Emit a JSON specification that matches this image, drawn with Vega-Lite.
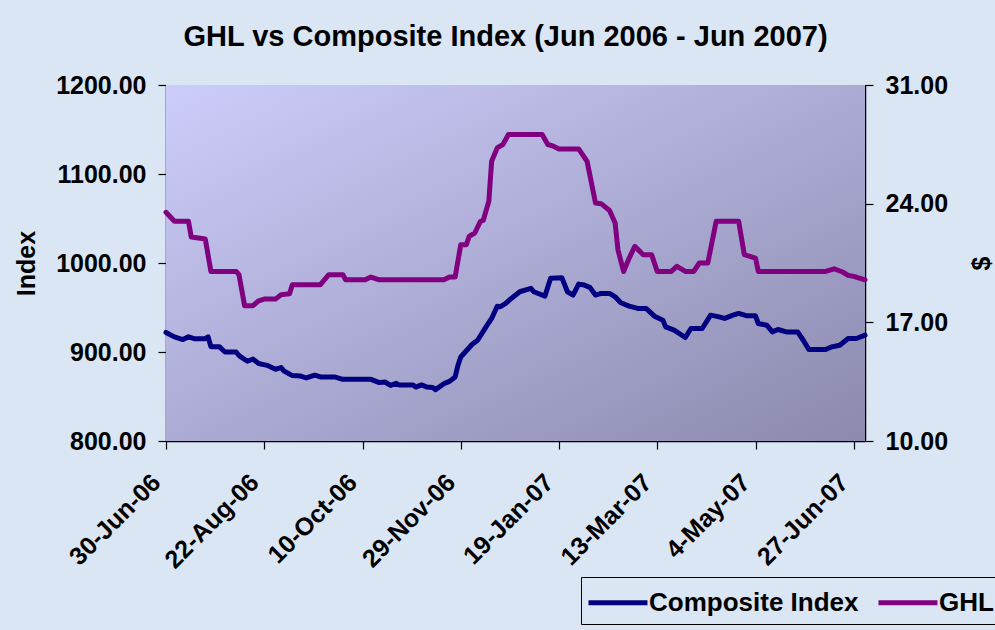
{
  "$schema": "https://vega.github.io/schema/vega-lite/v6.json",
  "width": 699,
  "height": 356,
  "autosize": {"type": "none"},
  "padding": {"left": 166, "top": 85, "right": 130, "bottom": 189},
  "background": "#dae6f4",
  "config": {
    "font": "Liberation Sans",
    "view": {"stroke": "#808080", "strokeWidth": 1},
    "axis": {
      "labelFont": "Liberation Sans",
      "labelFontWeight": "bold",
      "labelFontSize": 25,
      "labelColor": "#000000",
      "titleFont": "Liberation Sans",
      "titleFontWeight": "bold",
      "titleFontSize": 25,
      "titleColor": "#000000",
      "domainColor": "#000000",
      "domainWidth": 1.5,
      "tickColor": "#000000",
      "tickWidth": 1.2,
      "tickSize": 8,
      "grid": false
    }
  },
  "title": {
    "text": "GHL vs Composite Index (Jun 2006 - Jun 2007)",
    "font": "Liberation Sans",
    "fontSize": 29,
    "fontWeight": "bold",
    "color": "#000000",
    "anchor": "middle",
    "dx": -10,
    "offset": 21
  },
  "datasets": {
    "ci": [
      {"d": 0, "v": 922}, {"d": 3, "v": 917}, {"d": 6, "v": 914}, {"d": 8, "v": 917}, {"d": 10, "v": 915},
      {"d": 14, "v": 915}, {"d": 15, "v": 917}, {"d": 16, "v": 906}, {"d": 19, "v": 906}, {"d": 21, "v": 900},
      {"d": 25, "v": 900}, {"d": 26, "v": 896}, {"d": 29, "v": 889.6}, {"d": 31, "v": 892}, {"d": 33, "v": 887},
      {"d": 36, "v": 885}, {"d": 39, "v": 880.6}, {"d": 41, "v": 882.5}, {"d": 42, "v": 878.6}, {"d": 45, "v": 873.5},
      {"d": 48, "v": 873}, {"d": 50, "v": 870.8}, {"d": 53, "v": 874}, {"d": 55, "v": 872}, {"d": 60, "v": 872},
      {"d": 63, "v": 869.3}, {"d": 73, "v": 869.3}, {"d": 76, "v": 865.6}, {"d": 78, "v": 866.3}, {"d": 80, "v": 862.5},
      {"d": 82, "v": 864.8}, {"d": 83, "v": 863}, {"d": 88, "v": 863}, {"d": 89, "v": 860.6}, {"d": 91, "v": 863},
      {"d": 93, "v": 860.6}, {"d": 95, "v": 860}, {"d": 96, "v": 857.7}, {"d": 99, "v": 864.4}, {"d": 101, "v": 867},
      {"d": 103, "v": 872}, {"d": 104, "v": 885}, {"d": 105, "v": 894.4}, {"d": 109, "v": 908.4}, {"d": 111, "v": 913.2},
      {"d": 114, "v": 928.2}, {"d": 116, "v": 937.7}, {"d": 118, "v": 951.5}, {"d": 119, "v": 950.8}, {"d": 121, "v": 954.6},
      {"d": 123, "v": 960.2}, {"d": 126, "v": 967.7}, {"d": 130, "v": 971.5}, {"d": 131, "v": 967.7}, {"d": 135, "v": 962.8},
      {"d": 137, "v": 982.8}, {"d": 141, "v": 983.5}, {"d": 143, "v": 967.7}, {"d": 145, "v": 964}, {"d": 147, "v": 976.3},
      {"d": 149, "v": 975.2}, {"d": 151, "v": 972.6}, {"d": 153, "v": 964}, {"d": 155, "v": 965.8}, {"d": 158, "v": 965.8},
      {"d": 160, "v": 962}, {"d": 162, "v": 955.3}, {"d": 165, "v": 951.5}, {"d": 168, "v": 949}, {"d": 171, "v": 949},
      {"d": 174, "v": 940.3}, {"d": 177, "v": 935.8}, {"d": 178, "v": 928.2}, {"d": 181, "v": 924.5}, {"d": 185, "v": 916.3},
      {"d": 187, "v": 926.4}, {"d": 191, "v": 926.4}, {"d": 194, "v": 941.4}, {"d": 197, "v": 939.5}, {"d": 199, "v": 937.7},
      {"d": 202, "v": 941.4}, {"d": 204, "v": 943.3}, {"d": 207, "v": 940.6}, {"d": 210, "v": 940.6}, {"d": 211, "v": 932},
      {"d": 214, "v": 930.1}, {"d": 216, "v": 922.6}, {"d": 218, "v": 925.3}, {"d": 221, "v": 922.6}, {"d": 225, "v": 922.6},
      {"d": 227, "v": 913.2}, {"d": 229, "v": 902.8}, {"d": 235, "v": 902.8}, {"d": 237, "v": 905.7}, {"d": 240, "v": 907.6},
      {"d": 243, "v": 915.2}, {"d": 246, "v": 915.2}, {"d": 249, "v": 918.9}
    ],
    "ghl": [
      {"d": 0, "v": 23.49}, {"d": 3, "v": 22.96}, {"d": 8, "v": 22.96}, {"d": 9, "v": 22.03}, {"d": 14, "v": 21.91},
      {"d": 16, "v": 20.0}, {"d": 25, "v": 20.0}, {"d": 26, "v": 19.81}, {"d": 28, "v": 17.98}, {"d": 31, "v": 17.98},
      {"d": 33, "v": 18.27}, {"d": 35, "v": 18.37}, {"d": 39, "v": 18.37}, {"d": 41, "v": 18.63}, {"d": 44, "v": 18.68},
      {"d": 45, "v": 19.22}, {"d": 55, "v": 19.22}, {"d": 58, "v": 19.81}, {"d": 63, "v": 19.81}, {"d": 64, "v": 19.51},
      {"d": 71, "v": 19.51}, {"d": 73, "v": 19.67}, {"d": 76, "v": 19.51}, {"d": 99, "v": 19.51}, {"d": 101, "v": 19.67},
      {"d": 103, "v": 19.67}, {"d": 105, "v": 21.58}, {"d": 107, "v": 21.58}, {"d": 108, "v": 22.07}, {"d": 110, "v": 22.27},
      {"d": 112, "v": 22.96}, {"d": 113, "v": 23.01}, {"d": 115, "v": 24.14}, {"d": 116, "v": 26.5}, {"d": 118, "v": 27.29},
      {"d": 120, "v": 27.49}, {"d": 122, "v": 28.08}, {"d": 134, "v": 28.08}, {"d": 136, "v": 27.49}, {"d": 138, "v": 27.39},
      {"d": 140, "v": 27.23}, {"d": 147, "v": 27.23}, {"d": 150, "v": 26.5}, {"d": 153, "v": 24.04}, {"d": 155, "v": 24.0},
      {"d": 158, "v": 23.6}, {"d": 160, "v": 22.86}, {"d": 161, "v": 21.28}, {"d": 163, "v": 20.0}, {"d": 165, "v": 20.79},
      {"d": 167, "v": 21.48}, {"d": 170, "v": 20.99}, {"d": 173, "v": 20.99}, {"d": 175, "v": 20.0}, {"d": 180, "v": 20.0},
      {"d": 182, "v": 20.3}, {"d": 185, "v": 20.0}, {"d": 188, "v": 20.0}, {"d": 190, "v": 20.5}, {"d": 193, "v": 20.5},
      {"d": 196, "v": 22.96}, {"d": 204, "v": 22.96}, {"d": 206, "v": 20.99}, {"d": 210, "v": 20.79}, {"d": 211, "v": 20.0},
      {"d": 235, "v": 20.0}, {"d": 238, "v": 20.16}, {"d": 241, "v": 19.97}, {"d": 243, "v": 19.77}, {"d": 245, "v": 19.71},
      {"d": 249, "v": 19.51}
    ]
  },
  "layer": [
    {
      "data": {"values": [{"start": 0, "end": 249}]},
      "mark": {
        "type": "rect",
        "color": {
          "gradient": "linear",
          "x1": 0, "y1": 0, "x2": 1, "y2": 1,
          "stops": [
            {"offset": 0, "color": "#cdcdfb"},
            {"offset": 1, "color": "#8b89ad"}
          ]
        }
      },
      "encoding": {
        "x": {"field": "start", "type": "quantitative", "scale": {"domain": [0, 249], "nice": false, "zero": false}},
        "x2": {"field": "end"}
      }
    },
    {
      "data": {"name": "ci"},
      "mark": {"type": "line", "strokeWidth": 5, "strokeJoin": "round", "strokeCap": "round"},
      "encoding": {
        "x": {
          "field": "d", "type": "quantitative",
          "scale": {"domain": [0, 249], "nice": false, "zero": false},
          "axis": {
            "values": [0, 35, 70, 105, 140, 175, 210, 245],
            "labelExpr": "['30-Jun-06','22-Aug-06','10-Oct-06','29-Nov-06','19-Jan-07','13-Mar-07','4-May-07','27-Jun-07'][round(datum.value/35)]",
            "labelAngle": -45,
            "labelAlign": "right",
            "labelBaseline": "middle",
            "labelPadding": 29,
            "labelOffset": -10,
            "title": null,
            "labelOverlap": false,
            "labelBound": false,
            "labelFlush": false
          }
        },
        "y": {
          "field": "v", "type": "quantitative",
          "scale": {"domain": [800, 1200], "nice": false, "zero": false},
          "axis": {
            "orient": "left",
            "values": [800, 900, 1000, 1100, 1200],
            "format": ".2f",
            "title": "Index",
            "labelPadding": 12,
            "titlePadding": 16
          }
        },
        "color": {
          "datum": "Composite Index",
          "type": "nominal",
          "scale": {"domain": ["Composite Index", "GHL"], "range": ["#000080", "#800080"]},
          "legend": {
            "orient": "none",
            "legendX": 415,
            "legendY": 492,
            "direction": "horizontal",
            "title": null,
            "strokeColor": "#000000",
            "padding": 8,
            "symbolType": "M-1.2,0H2.73",
            "symbolSize": 900,
            "symbolStrokeWidth": 5,
            "labelFont": "Liberation Sans",
            "labelFontWeight": "bold",
            "labelFontSize": 26,
            "labelColor": "#000000",
            "labelLimit": 0,
            "labelOffset": 25,
            "columnPadding": 9
          }
        }
      }
    },
    {
      "data": {"name": "ghl"},
      "mark": {"type": "line", "strokeWidth": 5, "strokeJoin": "round", "strokeCap": "round"},
      "encoding": {
        "x": {"field": "d", "type": "quantitative"},
        "y": {
          "field": "v", "type": "quantitative",
          "scale": {"domain": [10, 31], "nice": false, "zero": false},
          "axis": {
            "orient": "right",
            "values": [10, 17, 24, 31],
            "format": ".2f",
            "title": "$",
            "titleAngle": 270,
            "labelPadding": 12,
            "titlePadding": 47
          }
        },
        "color": {"datum": "GHL", "type": "nominal"}
      }
    }
  ],
  "resolve": {"scale": {"y": "independent"}, "axis": {"y": "independent"}}
}
